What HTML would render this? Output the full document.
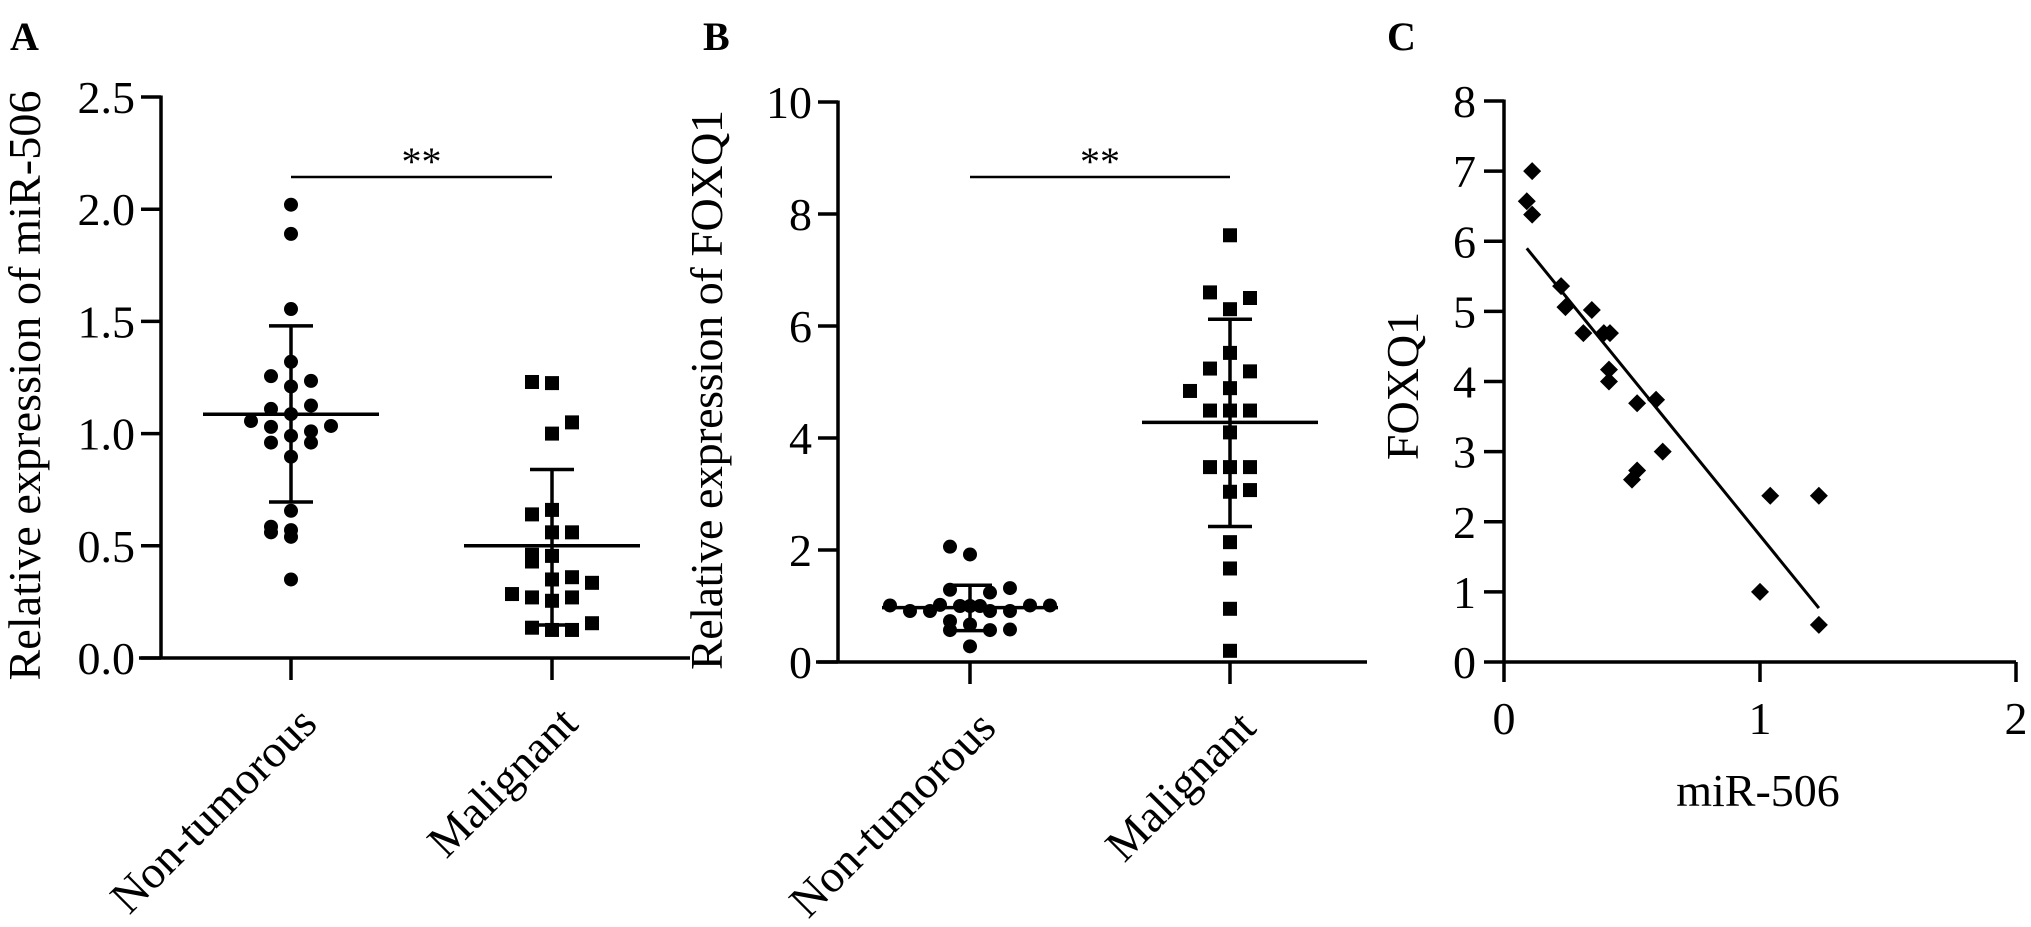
<!DOCTYPE html>
<html><head><meta charset="utf-8"><style>
html,body{margin:0;padding:0;background:#fff;}
svg{display:block;font-family:"Liberation Serif",serif;}
</style></head><body>
<svg id="fig" width="2031" height="927" viewBox="0 0 2031 927" xmlns="http://www.w3.org/2000/svg"></svg>
<script>
// ---- Panel A data (miR-506) ----
const aCategories = ["Non-tumorous", "Malignant"];
const aNonTumorous = [2.02,1.89,1.555,1.32,1.256,1.235,1.21,1.11,1.125,1.087,1.056,1.034,1.03,1.01,0.99,0.96,0.96,0.897,0.656,0.585,0.57,0.56,0.54,0.35];
const aNonTumorousSlot = [0,0,0,0,-1,1,0,-1,1,0,-2,2,-1,1,0,-1,1,0,0,-1,0,-1,0,0];
const aMalignant = [1.23,1.225,1.05,1.00,0.66,0.64,0.56,0.56,0.46,0.455,0.43,0.35,0.36,0.335,0.285,0.27,0.255,0.27,0.135,0.125,0.125,0.155];
const aMalignantSlot = [-1,0,1,0,0,-1,0,1,-1,0,-1,0,1,2,-2,-1,0,1,-1,0,1,2];
const aMean = [1.086, 0.50];
const aErrHigh = [1.48, 0.84];
const aErrLow = [0.695, 0.147];
const aTicks = ["0.0","0.5","1.0","1.5","2.0","2.5"];
const aTickValues = [0,0.5,1,1.5,2,2.5];
// ---- Panel B data (FOXQ1) ----
const bCategories = ["Non-tumorous", "Malignant"];
const bNonTumorous = [2.06,1.92,1.29,1.24,1.32,1.01,1.02,1.0,1.0,1.01,1.01,1.0,0.91,0.91,0.91,0.91,0.73,0.57,0.67,0.57,0.58,0.28];
const bNonTumorousSlot = [-1,0,-1,1,2,-4,-1.5,-0.5,0.5,3,4,0,-3,-2,1,2,-1,-1,0,1,2,0];
const bMalignant = [7.62,6.6,6.5,6.3,5.52,5.24,5.19,4.84,4.89,4.49,4.49,4.49,4.10,3.48,3.48,3.48,3.04,3.07,2.14,1.67,0.95,0.2];
const bMalignantSlot = [0,-1,1,0,0,-1,1,-2,0,-1,0,1,0,-1,0,1,0,1,0,0,0,0];
const bMean = [0.97, 4.28];
const bErrHigh = [1.37, 6.12];
const bErrLow = [0.56, 2.42];
const bTicks = ["0","2","4","6","8","10"];
const bTickValues = [0,2,4,6,8,10];
// ---- Panel C data (correlation) ----
const cMiR506 = [0.11,0.089,0.11,0.223,0.24,0.343,0.31,0.39,0.414,0.41,0.41,0.52,0.594,0.62,0.52,0.50,1.04,1.23,1.0,1.23];
const cFOXQ1 = [7.00,6.57,6.38,5.36,5.06,5.02,4.69,4.69,4.69,4.17,4.0,3.69,3.74,3.0,2.73,2.6,2.37,2.37,1.0,0.53];
const cXTicks = ["0","1","2"];
const cXTickValues = [0,1,2];
const cYTicks = ["0","1","2","3","4","5","6","7","8"];
const cYTickValues = [0,1,2,3,4,5,6,7,8];

const svg = document.getElementById('fig');
const NS = "http://www.w3.org/2000/svg";
function mk(tag, attrs, parent) {
  const e = document.createElementNS(NS, tag);
  for (const k in attrs) e.setAttribute(k, attrs[k]);
  (parent || svg).appendChild(e);
  return e;
}
function line(x1,y1,x2,y2,w,parent){ return mk('line',{x1:x1,y1:y1,x2:x2,y2:y2,stroke:'#000','stroke-width':w||3.5},parent); }
function txt(s,x,y,size,anchor,parent,extra){
  const t = mk('text', Object.assign({x:x,y:y,'font-size':size,'text-anchor':anchor||'middle',fill:'#000'}, extra||{}), parent);
  t.textContent = s; return t;
}

function dotPanel(opt) {
  const g = mk('g', {});
  
  
  const yS = v => opt.y0 + (v - 0) / opt.vmax * (opt.yTop - opt.y0);
  const ya = line(opt.ax, opt.yTop - 1.5, opt.ax, opt.y0, 3.5, g);
  
  
  opt.tickVals.forEach((v, i) => {
    line(opt.ax - 20, yS(v), opt.ax, yS(v), 3.5, g);
    const t = txt(opt.ticks[i], opt.ax - 26, yS(v) + 16, 46, 'end', g);
    
    
  });
  const xa = line(opt.ax - 22, opt.y0, opt.xEnd, opt.y0, 3.5, g);
  
  
  opt.cats.forEach((c, i) => {
    const cx = opt.catX[i];
    line(cx, opt.y0, cx, opt.y0 + 22, 3.5, g);
    const ax = cx + 28, ay = opt.y0 + 68;
    const t = txt(c, ax, ay, 46, 'end', g, {transform: 'rotate(-45 ' + ax + ' ' + ay + ')'});
    
    
  });
  const tx = opt.titleX, ty = (opt.yTop + opt.y0) / 2 + 8;
  const yt = txt(opt.title, tx, ty, 46, 'middle', g, {transform: 'rotate(-90 ' + tx + ' ' + ty + ')', textLength: opt.titleLen, lengthAdjust: 'spacing'});
  
  
  const series = [[opt.s0, opt.slot0, 'circle'], [opt.s1, opt.slot1, 'square']];
  series.forEach((s, si) => {
    const cx = opt.catX[si];
    s[0].forEach((v, i) => {
      const x = cx + s[1][i] * 20, y = yS(v);
      let m;
      if (s[2] === 'circle') m = mk('circle', {cx: x, cy: y, r: 7, fill: '#000'}, g);
      else m = mk('rect', {x: x - 7, y: y - 7, width: 14, height: 14, fill: '#000'}, g);
      
      
    });
    const mn = line(cx - 88, yS(opt.mean[si]), cx + 88, yS(opt.mean[si]), 3.5, g);
    
    
    const eb = line(cx, yS(opt.hi[si]), cx, yS(opt.lo[si]), 3.5, g);
    
    
    line(cx - 22, yS(opt.hi[si]), cx + 22, yS(opt.hi[si]), 3.5, g);
    line(cx - 22, yS(opt.lo[si]), cx + 22, yS(opt.lo[si]), 3.5, g);
  });
  const sb = line(opt.catX[0], 177, opt.catX[1], 177, 2.5, g);
  
  
  const st = txt('**', (opt.catX[0] + opt.catX[1]) / 2, 175, 40, 'middle', g);
  
  
  const pl = txt(opt.letter, opt.letterX, 50, 40, 'start', g, {'font-weight': 'bold'});
  
  
}

dotPanel({name:'panel-a', letter:'A', letterX:10, ax:161, yTop:97, y0:658, vmax:2.5, xEnd:690,
  catX:[291,552], cats:aCategories, ticks:aTicks, tickVals:aTickValues,
  s0:aNonTumorous, slot0:aNonTumorousSlot, s1:aMalignant, slot1:aMalignantSlot,
  mean:aMean, hi:aErrHigh, lo:aErrLow, title:'Relative expression of miR-506', titleX:40, titleLen:590});
dotPanel({name:'panel-b', letter:'B', letterX:703, ax:838, yTop:102, y0:662, vmax:10, xEnd:1367,
  catX:[970,1230], cats:bCategories, ticks:bTicks, tickVals:bTickValues,
  s0:bNonTumorous, slot0:bNonTumorousSlot, s1:bMalignant, slot1:bMalignantSlot,
  mean:bMean, hi:bErrHigh, lo:bErrLow, title:'Relative expression of FOXQ1', titleX:722, titleLen:560});

(function(){
  const g = mk('g', {});
  
  
  const ax = 1504, y0 = 662, yTop = 101, x1 = 1760;
  const xS = v => ax + v * (x1 - ax);
  const yS = v => y0 - v / 8 * (y0 - yTop);
  const ya = line(ax, yTop - 1.5, ax, y0, 3.5, g);
  
  
  cYTickValues.forEach((v, i) => {
    line(ax - 20, yS(v), ax, yS(v), 3.5, g);
    const t = txt(cYTicks[i], ax - 28, yS(v) + 16, 46, 'end', g);
    
    
  });
  const xa = line(ax, y0, xS(2), y0, 3.5, g);
  
  
  cXTickValues.forEach((v, i) => {
    line(xS(v), y0, xS(v), y0 + 20, 3.5, g);
    const t = txt(cXTicks[i], xS(v), y0 + 72, 46, 'middle', g);
    
    
  });
  const xt = txt('miR-506', 1758, 806, 46, 'middle', g);
  
  
  const yt = txt('FOXQ1', 1418, 386, 46, 'middle', g, {transform: 'rotate(-90 1418 386)'});
  
  
  cMiR506.forEach((xv, i) => {
    const x = xS(xv), y = yS(cFOXQ1[i]);
    const p = mk('polygon', {points: x + ',' + (y - 9) + ' ' + (x + 9) + ',' + y + ' ' + x + ',' + (y + 9) + ' ' + (x - 9) + ',' + y, fill: '#000'}, g);
    
    
  });
  const n = cMiR506.length;
  const mx = cMiR506.reduce((a, b) => a + b, 0) / n;
  const my = cFOXQ1.reduce((a, b) => a + b, 0) / n;
  let sxy = 0, sxx = 0;
  for (let i = 0; i < n; i++) { sxy += (cMiR506[i] - mx) * (cFOXQ1[i] - my); sxx += (cMiR506[i] - mx) ** 2; }
  const slope = sxy / sxx, icp = my - slope * mx;
  const xmin = Math.min(...cMiR506), xmax = Math.max(...cMiR506);
  const rl = line(xS(xmin), yS(icp + slope * xmin), xS(xmax), yS(icp + slope * xmax), 3, g);
  
  
  const pl = txt('C', 1387, 50, 40, 'start', g, {'font-weight': 'bold'});
  
  
})();
</script>
</body></html>
